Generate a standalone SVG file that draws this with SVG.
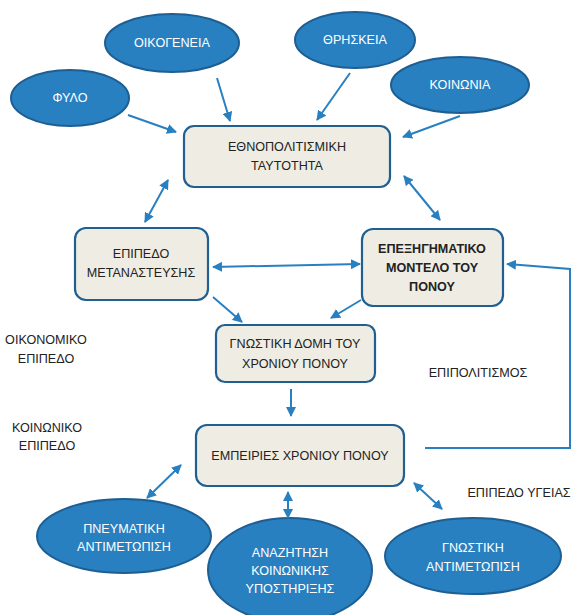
<svg xmlns="http://www.w3.org/2000/svg" width="574" height="615" viewBox="0 0 574 615">
<defs>
<style>
.ell{fill:#2880c1;stroke:#1d5e93;stroke-width:2}
.box{fill:#efede3;stroke:#1f5f92;stroke-width:2.2}
.wt{font-family:"Liberation Sans",Arial,sans-serif;font-size:12.6px;fill:#ffffff;text-anchor:middle}
.bt{font-family:"Liberation Sans",Arial,sans-serif;font-size:12.6px;fill:#222222;text-anchor:middle}
.bb{font-weight:bold}
.lbl{font-family:"Liberation Sans",Arial,sans-serif;font-size:12.6px;fill:#222222;text-anchor:middle}
.con{stroke:#2880c1;stroke-width:2;fill:none}
</style>
<marker id="ah" viewBox="0 0 10 10" refX="9" refY="5" markerWidth="5" markerHeight="5" orient="auto-start-reverse">
<path d="M0,0 L10,5 L0,10 z" fill="#2880c1"/>
</marker>
</defs>
<rect width="574" height="615" fill="#ffffff"/>
<g id="n-fylo"><ellipse class="ell" cx="70" cy="98" rx="59" ry="28"/><text class="wt" x="70" y="102">ΦΥΛΟ</text></g>
<g id="n-oikogeneia"><ellipse class="ell" cx="172" cy="43" rx="67" ry="29"/><text class="wt" x="172" y="47">ΟΙΚΟΓΕΝΕΙΑ</text></g>
<g id="n-thriskeia"><ellipse class="ell" cx="355" cy="40" rx="60" ry="28"/><text class="wt" x="355" y="44">ΘΡΗΣΚΕΙΑ</text></g>
<g id="n-koinonia"><ellipse class="ell" cx="460" cy="85" rx="69" ry="28"/><text class="wt" x="460" y="89">ΚΟΙΝΩΝΙΑ</text></g>
<g id="n-ethno"><rect class="box" x="184" y="126" width="206" height="61" rx="10"/><text class="bt" x="287" y="151">ΕΘΝΟΠΟΛΙΤΙΣΜΙΚΗ</text><text class="bt" x="287" y="170">ΤΑΥΤΟΤΗΤΑ</text></g>
<g id="n-metan"><rect class="box" x="75" y="228" width="133" height="72" rx="11"/><text class="bt" x="141" y="258">ΕΠΙΠΕΔΟ</text><text class="bt" x="141" y="277">ΜΕΤΑΝΑΣΤΕΥΣΗΣ</text></g>
<g id="n-epex"><rect class="box" x="362" y="229" width="141" height="77" rx="11"/><text class="bt bb" x="432" y="253">ΕΠΕΞΗΓΗΜΑΤΙΚΟ</text><text class="bt bb" x="432" y="272">ΜΟΝΤΕΛΟ ΤΟΥ</text><text class="bt bb" x="432" y="291">ΠΟΝΟΥ</text></g>
<g id="n-gnostiki-domi"><rect class="box" x="216" y="325" width="159" height="57" rx="9"/><text class="bt" x="295" y="348">ΓΝΩΣΤΙΚΗ ΔΟΜΗ ΤΟΥ</text><text class="bt" x="295" y="368">ΧΡΟΝΙΟΥ ΠΟΝΟΥ</text></g>
<g id="n-empeiries"><rect class="box" x="196" y="425" width="208" height="61" rx="11"/><text class="bt" x="300" y="460">ΕΜΠΕΙΡΙΕΣ ΧΡΟΝΙΟΥ ΠΟΝΟΥ</text></g>
<g id="n-pneumatiki"><ellipse class="ell" cx="124" cy="536" rx="87" ry="37"/><text class="wt" x="124" y="533">ΠΝΕΥΜΑΤΙΚΗ</text><text class="wt" x="124" y="551">ΑΝΤΙΜΕΤΩΠΙΣΗ</text></g>
<g id="n-anazitisi"><ellipse class="ell" cx="290" cy="570" rx="82" ry="52"/><text class="wt" x="290" y="557">ΑΝΑΖΗΤΗΣΗ</text><text class="wt" x="290" y="575">ΚΟΙΝΩΝΙΚΗΣ</text><text class="wt" x="290" y="593">ΥΠΟΣΤΗΡΙΞΗΣ</text></g>
<g id="n-gnostiki-ant"><ellipse class="ell" cx="473" cy="556" rx="88" ry="38"/><text class="wt" x="473" y="552">ΓΝΩΣΤΙΚΗ</text><text class="wt" x="473" y="571">ΑΝΤΙΜΕΤΩΠΙΣΗ</text></g>
<g id="connectors">
<line class="con" x1="128" y1="115" x2="176" y2="132" marker-end="url(#ah)"/>
<line class="con" x1="217" y1="78" x2="230" y2="121" marker-end="url(#ah)"/>
<line class="con" x1="350" y1="73" x2="317" y2="120" marker-end="url(#ah)"/>
<line class="con" x1="460" y1="116" x2="403" y2="137" marker-end="url(#ah)"/>
<line class="con" x1="168" y1="180" x2="145" y2="222" marker-start="url(#ah)" marker-end="url(#ah)"/>
<line class="con" x1="404" y1="176" x2="440" y2="220" marker-start="url(#ah)" marker-end="url(#ah)"/>
<line class="con" x1="213" y1="267" x2="360" y2="264" marker-start="url(#ah)" marker-end="url(#ah)"/>
<line class="con" x1="213" y1="297" x2="242" y2="322" marker-end="url(#ah)"/>
<line class="con" x1="361" y1="300" x2="331" y2="318" marker-end="url(#ah)"/>
<line class="con" x1="291" y1="389" x2="291" y2="416" marker-end="url(#ah)"/>
<polyline class="con" points="425,448 570,448 570,269 507,264" marker-end="url(#ah)"/>
<line class="con" x1="181" y1="465" x2="147" y2="498" marker-start="url(#ah)" marker-end="url(#ah)"/>
<line class="con" x1="288" y1="492" x2="288" y2="518" marker-start="url(#ah)" marker-end="url(#ah)"/>
<line class="con" x1="414" y1="483" x2="442" y2="509" marker-start="url(#ah)" marker-end="url(#ah)"/>
</g>
<g id="labels">
<text class="lbl" x="46" y="344">ΟΙΚΟΝΟΜΙΚΟ</text><text class="lbl" x="46" y="363">ΕΠΙΠΕΔΟ</text>
<text class="lbl" x="47" y="432">ΚΟΙΝΩΝΙΚΟ</text><text class="lbl" x="47" y="450">ΕΠΙΠΕΔΟ</text>
<text class="lbl" x="478" y="377">ΕΠΙΠΟΛΙΤΙΣΜΟΣ</text>
<text class="lbl" x="519" y="497">ΕΠΙΠΕΔΟ ΥΓΕΙΑΣ</text>
</g>
</svg>
